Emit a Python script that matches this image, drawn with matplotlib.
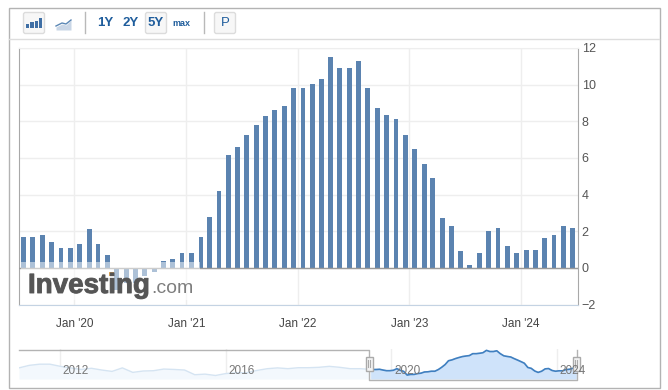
import numpy as np
import pandas as pd
from matplotlib import pyplot as plt
from matplotlib.patches import Rectangle, FancyBboxPatch
import matplotlib.dates as mdates
import matplotlib.patheffects as pe

W, H = 668, 390

# monthly bars, Jul 2019 .. Jun 2024
bar_values = [1.67, 1.67, 1.78, 1.39, 1.06, 1.06, 1.28, 2.1, 1.28, 0.68,
              -1.2, -0.85, -0.85, -0.44, -0.2, 0.4, 0.5, 0.79, 0.79, 1.67,
              2.77, 4.19, 6.17, 6.61, 7.27, 7.82, 8.31, 8.59, 8.81, 9.8,
              9.8, 10.02, 10.29, 11.5, 10.9, 10.9, 11.28, 9.8, 8.7, 8.37,
              8.1, 7.27, 6.5, 5.68, 4.91, 2.71, 2.27, 0.9, 0.18, 0.79,
              2.0, 2.16, 1.17, 0.79, 1.0, 1.0, 1.61, 1.78, 2.27, 2.16]
y_ticks = [-2, 0, 2, 4, 6, 8, 10, 12]
x_tick_labels = ["Jan '20", "Jan '21", "Jan '22", "Jan '23", "Jan '24"]
x_tick_dates = ['2020-01-01', '2021-01-01', '2022-01-01', '2023-01-01', '2024-01-01']

# navigator history, quarterly from 2011 to spring 2019
hist_values = [2.5, 3.8, 4.4, 4.4, 3.3, 2.5, 1.7, 2.3, 1.4, 0.7, 2.5, 0.2,
               0.9, 1.05, 1.9, 1.7, 1.4, -1.0, -0.7, -1.4, -0.4, 0.0, 0.0, 1.2,
               2.1, 2.5, 2.1, 2.6, 2.6, 2.8, 3.3, 2.8, 2.1, 2.1]
nav_years = ['2012', '2016', '2020', '2024']
nav_tick_dates = ['2012-01-01', '2016-01-01', '2020-01-01', '2024-01-01']

bar_dates = pd.date_range('2019-07-01', periods=len(bar_values), freq='MS') + pd.Timedelta(days=17)
hist_dates = pd.date_range('2011-01-01', periods=len(hist_values), freq='QS')


def px_axes(fig, left, top, right, bottom):
    return fig.add_axes([left / W, 1 - bottom / H, (right - left) / W, (bottom - top) / H])


def button(bg, x0, y0, x1, y1):
    bg.add_patch(FancyBboxPatch((x0, y0), x1 - x0, y1 - y0, boxstyle='round,pad=0,rounding_size=2',
                                fc='#f7f7f7', ec='#dcdcdc', lw=1))


plt.rcParams['font.family'] = ['Liberation Sans', 'DejaVu Sans']
fig = plt.figure(figsize=(W / 100, H / 100), dpi=100)

# page chrome, in pixels
bg = fig.add_axes([0, 0, 1, 1], zorder=0)
bg.set_xlim(0, W)
bg.set_ylim(H, 0)
bg.set_axis_off()
bg.add_patch(Rectangle((8.5, 7.5), 651, 380.5, fc='white', ec='#b3b3b3', lw=1))
bg.plot([9, 659], [38.5, 38.5], color='#dddddd', lw=1)
bg.plot([84.5, 84.5], [12, 33], color='#b9b9b9', lw=1)
bg.plot([203.5, 203.5], [12, 33], color='#b9b9b9', lw=1)
button(bg, 23.5, 12.5, 44.5, 33.5)
button(bg, 145.5, 12.5, 166.5, 33.5)
button(bg, 214.5, 12.5, 235.5, 33.5)
blue = '#1f5d9c'
for bx, bh in zip([26, 30.3, 34.6, 38.9], [4, 6, 7, 10]):
    bg.add_patch(Rectangle((bx, 28 - bh), 3.3, bh, fc='#3f6fa5', ec='none'))
bg.fill_between([56, 62, 66, 71, 71, 56], [27, 24, 25, 20, 30, 30], 30, color='#c9d6e6', lw=0)
bg.plot([56, 62, 66, 71], [26, 23, 24, 20], color='#5b87b5', lw=1)
for label, x, size, weight in [('1Y', 105, 9.5, 'bold'), ('2Y', 131, 9.5, 'bold'), ('5Y', 156, 9.5, 'bold'),
                               ('max', 181, 6.5, 'bold'), ('P', 225, 9.5, 'normal')]:
    bg.text(x, 23, label, color=blue, fontsize=size, fontweight=weight, ha='center', va='center')

# main chart
ax = px_axes(fig, 18.5, 48, 577.5, 304.5)
ax.set_zorder(1)
ax.patch.set_alpha(0)
ax.bar(bar_dates, bar_values, width=16, color='#5b83b0', zorder=2)
ax.axhline(0, color='#9a9a9a', lw=1, zorder=3)
ax.set_xlim(pd.Timestamp('2019-07-02'), pd.Timestamp('2024-07-04'))
ax.set_ylim(-2, 12)
ax.set_xticks(pd.to_datetime(x_tick_dates))
ax.set_xticklabels(x_tick_labels)
ax.set_yticks(y_ticks)
ax.yaxis.tick_right()
ax.grid(True, color='#eeeeee', lw=1, zorder=0)
ax.set_axisbelow(True)
ax.tick_params(axis='x', length=0, pad=10, labelsize=8.5, labelcolor='#444444')
ax.tick_params(axis='y', length=0, pad=3, labelsize=9, labelcolor='#555555')
ax.spines['top'].set_color('#eeeeee')
ax.spines['left'].set_color('#a8a8a8')
ax.spines['right'].set_color('#a8a8a8')
ax.spines['bottom'].set_color('#c4d3e3')

# watermark sits over the bars
wm = fig.add_axes([0, 0, 1, 1], zorder=2)
wm.set_xlim(0, W)
wm.set_ylim(H, 0)
wm.set_axis_off()
wm.patch.set_alpha(0)
wm.add_patch(Rectangle((21, 262), 179, 38, fc='white', ec='none', alpha=0.5))
wm.text(28, 293, 'Investing', fontsize=20, fontweight='bold', color='#555555', alpha=0.92,
        va='baseline', ha='left', path_effects=[pe.withStroke(linewidth=0.7, foreground='#555555')])
wm.text(151, 293, '.com', fontsize=14, color='#777777', alpha=0.95, va='baseline', ha='left')
wm.add_patch(Rectangle((109, 271.5), 4.5, 4.5, fc='#f2b45c', ec='none'))

# navigator
nav = px_axes(fig, 19, 349, 577, 379)
nav.set_zorder(1)
nav.patch.set_alpha(0)
all_dates = list(hist_dates) + list(bar_dates)
all_values = hist_values + bar_values
nav.set_xlim(pd.Timestamp('2011-01-01'), pd.Timestamp('2024-06-25'))
nav.set_ylim(-3.2, 12.2)
nav.fill_between(all_dates, all_values, -3.2, color='#f3f8fd', lw=0, zorder=1)
nav.plot(all_dates, all_values, color='#d5e4f2', lw=1, zorder=2)
sel_dates = [pd.Timestamp('2019-07-01')] + list(bar_dates)
sel_values = bar_values[:1] + bar_values
nav.fill_between(sel_dates, sel_values, -3.2, color='#cfe3fa', lw=0, zorder=3)
nav.plot(sel_dates, sel_values, color='#3f7fc0', lw=1.2, zorder=4)
nav.set_xticks(pd.to_datetime(nav_tick_dates))
nav.xaxis.set_major_formatter(plt.NullFormatter())
nav.set_yticks([])
nav.grid(True, axis='x', color='#eeeeee', lw=1, zorder=0)
nav.set_axisbelow(True)
nav.tick_params(length=0)
for s in nav.spines.values():
    s.set_visible(False)

# navigator mask and handles, drawn in pixels
wm.plot([19, 369, 369, 577, 577], [349.5, 349.5, 379.5, 379.5, 349.5], color='#b3b3b3', lw=1)
for hx in [369, 576]:
    wm.add_patch(Rectangle((hx - 3.5, 356.5), 7, 14, fc='#f4f4f4', ec='#aaaaaa', lw=1, zorder=5))
    wm.plot([hx - 1, hx - 1], [360, 367], color='#aaaaaa', lw=0.8, zorder=6)
    wm.plot([hx + 1, hx + 1], [360, 367], color='#aaaaaa', lw=0.8, zorder=6)

# year labels lie over the handles
for year, d in zip(nav_years, nav_tick_dates):
    wm.text(mdates.date2num(pd.Timestamp(d)) + 138, 0.9, year, fontsize=8.5, color='#777777',
            ha='center', va='center', zorder=7, transform=nav.transData, clip_on=False)

fig.savefig('out.png', dpi=100)
